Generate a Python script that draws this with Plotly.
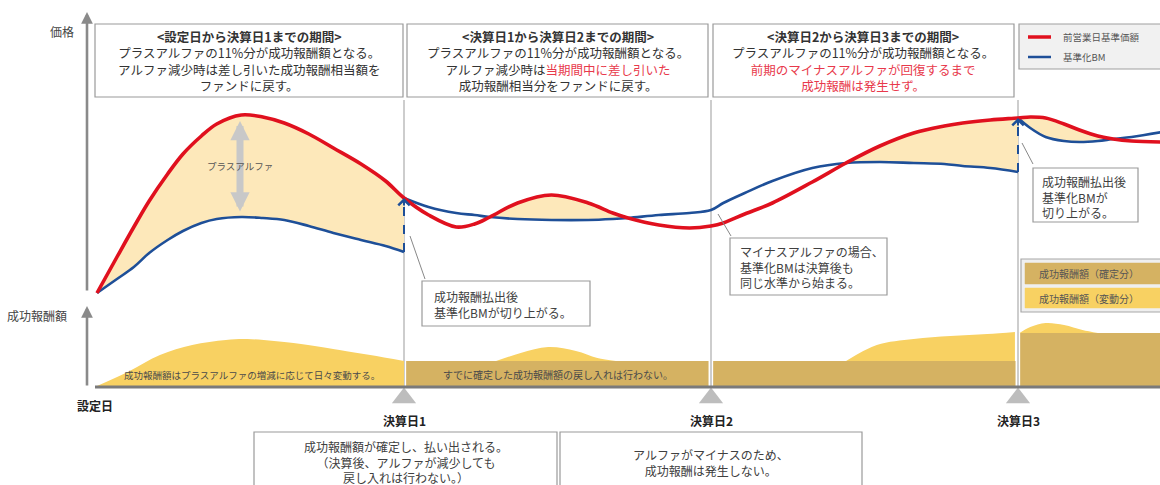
import plotly.graph_objects as go

W, H = 1160, 485
FONT = "Noto Sans CJK JP"

# ---------------- data ----------------
settle_days = [0, 100, 200, 300]
settle_labels = ["設定日", "決算日1", "決算日2", "決算日3"]

# price chart (arbitrary price units), per period
p1_days = [0, 6.5, 12, 17, 23, 28, 34, 39, 47, 54, 61, 69, 77, 86, 94, 100]
p1_red = [7, 43, 73, 99, 126, 146, 164, 176, 185, 183, 177, 166, 152, 136, 119, 102]
p1_blue = [7, 21, 33, 47, 60, 69, 77, 81, 83, 82, 80, 74, 67, 60, 54, 48]

p2_days = [100, 108, 117, 123, 128, 137, 148, 160, 168, 173, 183, 193, 200]
p2_red = [102, 85, 73, 76, 83, 97, 105, 97, 87, 82, 75, 72, 74]
p2_blue = [102, 93, 87, 85, 83, 81, 80, 80, 81, 82, 85, 87, 90]

p3_days = [200, 204, 211, 220, 233, 244, 255, 266, 276, 282, 291, 300]
p3_red = [74, 77, 86, 97, 118, 137, 154, 167, 174, 177, 180, 182]
p3_blue = [90, 97, 107, 119, 132, 137, 138, 137, 136, 134, 132, 128]

p4_days = [300, 304, 309, 315, 320, 326, 331, 337, 347]
p4_red = [182, 183, 182, 176, 170, 164, 161, 159, 158]
p4_blue = [182, 172, 163, 159, 158, 159, 161, 163, 168]

# fee chart
fee_fixed = [0, 25, 25, 53]          # confirmed fee per period
fee1_days = [0, 10, 20.5, 31, 42, 49, 64, 73, 79, 89, 100]
fee1_total = [0, 14, 31, 41, 46, 47, 43, 39, 36, 31, 25]
fee2_days = [130, 138, 147, 156, 163, 169]
fee2_total = [25, 33, 39, 35, 28, 25]
fee3_days = [244, 254, 266, 278, 290, 299]
fee3_total = [25, 41, 47, 50, 52, 54]
fee4_days = [300.5, 304, 309, 315, 321, 326]
fee4_total = [53, 59, 63, 61, 56, 53]

legend_labels = ["前営業日基準価額", "基準化BM"]
fee_legend_labels = ["成功報酬額（確定分）", "成功報酬額（変動分）"]

top_boxes = [
    ["<b>&lt;設定日から決算日1までの期間&gt;</b>",
     "プラスアルファの11%分が成功報酬額となる。",
     "アルファ減少時は差し引いた成功報酬相当額を",
     "ファンドに戻す。"],
    ["<b>&lt;決算日1から決算日2までの期間&gt;</b>",
     "プラスアルファの11%分が成功報酬額となる。",
     "アルファ減少時は<span style='color:#E8394B'>当期間中に差し引いた</span>",
     "成功報酬相当分をファンドに戻す。"],
    ["<b>&lt;決算日2から決算日3までの期間&gt;</b>",
     "プラスアルファの11%分が成功報酬額となる。",
     "<span style='color:#E8394B'>前期のマイナスアルファが回復するまで</span>",
     "<span style='color:#E8394B'>成功報酬は発生せず。</span>"],
]
callout1 = ["成功報酬払出後", "基準化BMが切り上がる。"]
callout2 = ["マイナスアルファの場合、", "基準化BMは決算後も", "同じ水準から始まる。"]
callout3 = ["成功報酬払出後", "基準化BMが", "切り上がる。"]
bottom1 = ["成功報酬額が確定し、払い出される。", "（決算後、アルファが減少しても", "戻し入れは行わない。）"]
bottom2 = ["アルファがマイナスのため、", "成功報酬は発生しない。"]
fee_text1 = "成功報酬額はプラスアルファの増減に応じて日々変動する。"
fee_text2 = "すでに確定した成功報酬額の戻し入れは行わない。"
plus_alpha = "プラスアルファ"
axis_price = "価格"
axis_fee = "成功報酬額"

# ---------------- style / layout helpers ----------------
RED = "#E0101E"
BLUE = "#1E4F98"
PEACH = "#FDE8BA"
VAR = "#F8D162"
FIX = "#D5B262"
TXT = "#3A3A3A"
BOX = "#9A9A9A"

X0_PX, PX_PER_DAY = 97, 3.07
PRICE_TOP, FEE_BASE = 300, 386


def P(x):
    return x / W


def Q(y):
    return 1 - y / H


fig = go.Figure()

# --- alpha fills (between blue and max(red, blue)) ---
for d, r, b in [(p1_days, p1_red, p1_blue), (p2_days, p2_red, p2_blue),
                (p3_days, p3_red, p3_blue), (p4_days, p4_red, p4_blue)]:
    up = [max(a, c) for a, c in zip(r, b)]
    fig.add_trace(go.Scatter(x=d, y=b, mode="lines", line=dict(width=0, shape="spline"),
                             hoverinfo="skip", showlegend=False))
    fig.add_trace(go.Scatter(x=d, y=up, mode="lines", line=dict(width=0, shape="spline"),
                             fill="tonexty", fillcolor=PEACH, hoverinfo="skip", showlegend=False))

# --- fee chart ---
fig.add_trace(go.Bar(x=settle_days[1:], y=fee_fixed[1:], offset=0.7, width=98.5,
                     marker=dict(color=FIX, line=dict(width=0)), yaxis="y2",
                     hoverinfo="skip", showlegend=False))
fig.add_trace(go.Scatter(x=fee1_days, y=fee1_total, mode="lines", yaxis="y2",
                         line=dict(width=0, shape="spline"), fill="tozeroy", fillcolor=VAR,
                         hoverinfo="skip", showlegend=False))
for d, tot, base in [(fee2_days, fee2_total, fee_fixed[1]),
                     (fee3_days, fee3_total, fee_fixed[2]),
                     (fee4_days, fee4_total, fee_fixed[3])]:
    fig.add_trace(go.Scatter(x=d, y=[base] * len(d), mode="lines", yaxis="y2",
                             line=dict(width=0), hoverinfo="skip", showlegend=False))
    fig.add_trace(go.Scatter(x=d, y=tot, mode="lines", yaxis="y2",
                             line=dict(width=0, shape="spline"), fill="tonexty", fillcolor=VAR,
                             hoverinfo="skip", showlegend=False))

# settlement triangles
fig.add_trace(go.Scatter(x=settle_days[1:], y=[-12] * 3, mode="markers", yaxis="y2",
                         marker=dict(symbol="triangle-up", size=21, color="#BDBDBD"),
                         hoverinfo="skip", showlegend=False))

# --- blue (benchmark) lines ---
blue_segments = [(p1_days, p1_blue),
                 (p2_days + p3_days[1:], p2_blue + p3_blue[1:]),
                 (p4_days, p4_blue)]
for d, b in blue_segments:
    fig.add_trace(go.Scatter(x=d, y=b, mode="lines", line=dict(color=BLUE, width=2.6, shape="spline"),
                             hoverinfo="skip", showlegend=False))

# --- red (NAV) line ---
red_days = p1_days + p2_days[1:] + p3_days[1:] + p4_days[1:]
red_vals = p1_red + p2_red[1:] + p3_red[1:] + p4_red[1:]
fig.add_trace(go.Scatter(x=red_days, y=red_vals, mode="lines",
                         line=dict(color=RED, width=3.6, shape="spline"),
                         hoverinfo="skip", showlegend=False))

# --- dashed step-ups of benchmark ---
annotations = []
for day, lo, hi in [(100, p1_blue[-1], p1_red[-1]), (300, p3_blue[-1], p3_red[-1])]:
    fig.add_trace(go.Scatter(x=[day, day], y=[lo, hi - 3], mode="lines",
                             line=dict(color=BLUE, width=2, dash="dash"),
                             hoverinfo="skip", showlegend=False))
    annotations.append(dict(x=day, y=hi, xref="x", yref="y", ax=0, ay=9, text="",
                            showarrow=True, arrowhead=4, arrowsize=1.1, arrowwidth=2,
                            arrowcolor=BLUE))


def txt(x, y, s, size=12, color=TXT, anchor="center", align="center"):
    if isinstance(s, (list, tuple)):
        s = "<br>".join(s)
    annotations.append(dict(x=P(x), y=Q(y), xref="paper", yref="paper", text=s,
                            showarrow=False, xanchor=anchor, yanchor="middle", align=align,
                            font=dict(family=FONT, size=size, color=color)))


shapes = []


def rect(x0, y0, x1, y1, fill="white", line=BOX, lw=1.2):
    shapes.append(dict(type="rect", xref="paper", yref="paper", x0=P(x0), x1=P(x1),
                       y0=Q(y1), y1=Q(y0), fillcolor=fill, line=dict(color=line, width=lw),
                       layer="above"))


def seg(x0, y0, x1, y1, color="#888888", w=1.0):
    shapes.append(dict(type="line", xref="paper", yref="paper", x0=P(x0), x1=P(x1),
                       y0=Q(y0), y1=Q(y1), line=dict(color=color, width=w), layer="above"))


# settlement vertical lines
for d in settle_days[1:]:
    shapes.append(dict(type="line", xref="x", yref="paper", x0=d, x1=d, y0=Q(388), y1=Q(100),
                       line=dict(color="#BDBDBD", width=1.5), layer="below"))

# baseline of fee chart
seg(95, 387, 1170, 387, color="#7A7A7A", w=3)

# axis arrows
for head, tail in [(12, 292), (306, 387)]:
    annotations.append(dict(x=P(87), y=Q(head), xref="paper", yref="paper", ax=0, ay=tail - head,
                            text="", showarrow=True, arrowhead=2, arrowsize=0.9, arrowwidth=2.6,
                            arrowcolor="#8A8A8A"))
txt(62, 32, axis_price, 12, "#444444")
txt(37, 315, axis_fee, 12, "#444444")

# plus-alpha double arrow
annotations.append(dict(x=P(240), y=Q(121), xref="paper", yref="paper", ax=0, ay=92, text="",
                        showarrow=True, arrowhead=2, arrowside="end+start", arrowsize=0.55,
                        arrowwidth=7, arrowcolor="#C8C8C8"))
txt(240, 166, plus_alpha, 9.5, "#555555")

# top boxes
box_x = [(95, 403), (407, 708), (713, 1014)]
for (x0, x1), lines in zip(box_x, top_boxes):
    rect(x0, 24, x1, 97)
    txt((x0 + x1) / 2, 61, lines, 12.5, "#333333")

# legend box
rect(1019, 24, 1172, 69, fill="#F1F1F1", line="#A0A0A0")
seg(1028, 37, 1051, 37, color=RED, w=3.5)
seg(1028, 57, 1051, 57, color=BLUE, w=2.5)
txt(1061, 37, legend_labels[0], 9.5, "#555555", "left")
txt(1061, 57, legend_labels[1], 9.5, "#555555", "left")

# callouts
rect(422, 281, 590, 326)
seg(410, 236, 425, 279)
txt(432, 304, callout1, 12, "#404040", "left", "left")
rect(730, 238, 887, 295)
seg(718, 214, 731, 236)
txt(738, 267, callout2, 12, "#404040", "left", "left")
rect(1033, 168, 1138, 222)
seg(1022, 143, 1033, 164)
txt(1040, 197, callout3, 12, "#404040", "left", "left")

# fee legend
rect(1021, 259, 1172, 312, fill="#EFEFEF", line="#A8A8A8")
rect(1025, 263, 1166, 284, fill=FIX, line=FIX, lw=0.5)
rect(1025, 288, 1166, 308, fill=VAR, line=VAR, lw=0.5)
txt(1037, 273.5, fee_legend_labels[0], 10, "#555555", "left")
txt(1037, 298, fee_legend_labels[1], 10, "#555555", "left")

# texts inside fee chart
txt(252, 375, fee_text1, 9.5, "#4A4A4A")
txt(558, 374, fee_text2, 10, "#4A4A4A")

# settlement labels
txt(95, 405, "<b>" + settle_labels[0] + "</b>", 12, "#222222")
for d, lab in zip(settle_days[1:], settle_labels[1:]):
    annotations.append(dict(x=d, y=Q(420), xref="x", yref="paper", text="<b>" + lab + "</b>",
                            showarrow=False, xanchor="center", yanchor="middle",
                            font=dict(family=FONT, size=12, color="#222222")))

# bottom boxes
rect(254, 432, 557, 498)
txt(406, 462, bottom1, 12, "#404040")
rect(560, 432, 862, 498)
txt(711, 462, bottom2, 12, "#404040")

x_range = [(0 - X0_PX) / PX_PER_DAY, (W - X0_PX) / PX_PER_DAY]
fig.update_layout(
    width=W, height=H, margin=dict(l=0, r=0, t=0, b=0),
    paper_bgcolor="white", plot_bgcolor="rgba(0,0,0,0)",
    xaxis=dict(range=x_range, visible=False, fixedrange=True),
    yaxis=dict(range=[PRICE_TOP - H, PRICE_TOP], visible=False, fixedrange=True),
    yaxis2=dict(range=[FEE_BASE - H, FEE_BASE], visible=False, overlaying="y", fixedrange=True),
    showlegend=False, shapes=shapes, annotations=annotations,
    font=dict(family=FONT),
)
fig.write_html("out.html", config={"displayModeBar": False},
               post_script="document.body.style.margin='0';document.body.style.overflow='hidden';")
